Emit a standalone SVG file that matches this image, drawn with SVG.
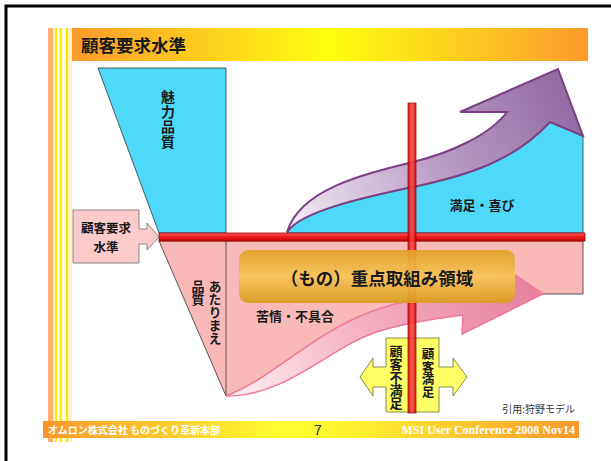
<svg xmlns="http://www.w3.org/2000/svg" width="611" height="461" viewBox="0 0 611 461">
<defs>
<style>
.jp{font-family:"Noto Sans CJK JP","Noto Sans",sans-serif;font-weight:bold;fill:#1a1a1a}
.vt{writing-mode:vertical-rl}
.edge{stroke:#333;stroke-width:0.8}
</style>
<linearGradient id="gTitle" x1="0" y1="0" x2="1" y2="0">
<stop offset="0" stop-color="#fb9a2c"/><stop offset="0.5" stop-color="#ffff10"/><stop offset="1" stop-color="#fb9a2c"/>
</linearGradient>
<linearGradient id="gFoot" x1="0" y1="0" x2="1" y2="0">
<stop offset="0" stop-color="#f7962a"/><stop offset="0.45" stop-color="#ffff30"/><stop offset="0.6" stop-color="#ffee30"/><stop offset="1" stop-color="#f7982a"/>
</linearGradient>
<linearGradient id="gRedH" x1="0" y1="0" x2="0" y2="1">
<stop offset="0" stop-color="#ff5a5a"/><stop offset="0.5" stop-color="#ee1c1c"/><stop offset="1" stop-color="#c80000"/>
</linearGradient>
<linearGradient id="gRedV" x1="0" y1="0" x2="1" y2="0">
<stop offset="0" stop-color="#c80000"/><stop offset="0.5" stop-color="#ff4a4a"/><stop offset="1" stop-color="#c80000"/>
</linearGradient>
<linearGradient id="gPurple" gradientUnits="userSpaceOnUse" x1="287" y1="232" x2="570" y2="90">
<stop offset="0" stop-color="#f4eef6"/><stop offset="0.5" stop-color="#bba0c6"/><stop offset="1" stop-color="#916aa2"/>
</linearGradient>
<linearGradient id="gPink" gradientUnits="userSpaceOnUse" x1="226" y1="396" x2="540" y2="290">
<stop offset="0" stop-color="#fdf0f4"/><stop offset="0.5" stop-color="#f3aabd"/><stop offset="1" stop-color="#e6809e"/>
</linearGradient>
<linearGradient id="gBox" x1="0" y1="0" x2="0" y2="1">
<stop offset="0" stop-color="#e2a126"/><stop offset="0.5" stop-color="#f8c358"/><stop offset="1" stop-color="#dc9c20"/>
</linearGradient>
</defs>
<rect width="611" height="461" fill="#fff"/>
<!-- outer frame -->
<path d="M6,461 V6 H611" fill="none" stroke="#000" stroke-width="3"/>
<!-- left stripes -->
<g id="stripes">
<rect x="48" y="28" width="5" height="414" fill="#fbb070"/>
<rect x="53" y="28" width="2" height="414" fill="#fff6d0"/>
<rect x="55" y="28" width="2.5" height="414" fill="#ffea00"/>
<rect x="57.5" y="28" width="2" height="414" fill="#fff"/>
<rect x="59.5" y="28" width="2.5" height="414" fill="#ffea00"/>
<rect x="62" y="28" width="4" height="414" fill="#fffbe0"/>
<rect x="66" y="28" width="2" height="414" fill="#ffe400"/>
<rect x="68" y="28" width="4" height="414" fill="#fff3c0"/>
</g>
<!-- title bar -->
<g id="title">
<rect x="72" y="28" width="516" height="33" fill="url(#gTitle)"/>
<text x="81" y="52" class="jp" font-size="17.5" fill="#111">顧客要求水準</text>
</g>
<!-- footer -->
<g id="footer">
<rect x="43" y="421" width="536" height="17" fill="url(#gFoot)"/>
<text x="48" y="434" font-family="Noto Sans CJK JP, sans-serif" font-weight="bold" font-size="10" fill="#fff">オムロン株式会社  ものづくり革新本部</text>
<text x="318" y="435" text-anchor="middle" font-family="Liberation Sans, sans-serif" font-size="14" fill="#222">7</text>
<text x="575" y="434" text-anchor="end" font-family="Liberation Serif, serif" font-weight="bold" font-size="12" fill="#fff">MSI User Conference 2008 Nov14</text>
</g>
<!-- blue 魅力品質 -->
<g id="miryoku">
<path d="M98,68 L226,68 L226,233 L159,233 Z" fill="#4ed9fa" class="edge"/>
<text x="168" y="90" class="jp vt" font-size="14" letter-spacing="1">魅力品質</text>
</g>
<!-- blue right region -->
<g id="manzoku">
<path d="M287,233 C300,212 360,198 413,187 C470,175 515,160 550,122 L583,136 L583,233 Z" fill="#4ed9fa" class="edge"/>
<text x="482" y="210" text-anchor="middle" class="jp" font-size="13">満足・喜び</text>
</g>
<!-- pink region -->
<g id="atarimae">
<path d="M159,241 L583,241 L583,294 L520,294 L400,320 L226,396 Z" fill="#f9b9b9" class="edge"/>
<line x1="226" y1="241" x2="226" y2="396" class="edge"/>
<text x="215" y="280" class="jp vt" font-size="13">あたりまえ</text>
<text x="198" y="280" class="jp vt" font-size="13">品質</text>
<text x="295" y="321" text-anchor="middle" class="jp" font-size="13">苦情・不具合</text>
</g>
<!-- connectors: arrows and bars -->
<g id="connectors">
<path id="pinkArrow" d="M226,396 C290,396 330,345 383,330 C410,322 440,318 463,315 L462,334 L543,294 L505,268 L478,291 C440,295 400,300 370,312 C310,335 270,380 226,396 Z" fill="url(#gPink)" stroke="#f07898" stroke-width="1.5"/>
<path id="purpleArrow" d="M287,232 C300,212 360,198 413,187 C470,175 515,160 550,122 L583,136 L558,69 L460,112 L507,112 C490,135 450,153 413,162 C360,175 300,190 287,232 Z" fill="url(#gPurple)" stroke="#7b3f84" stroke-width="2"/>
<rect id="levelBar" x="159" y="233" width="426" height="8" fill="url(#gRedH)" stroke="#a00000" stroke-width="0.8"/>
<path id="yellowArrow" d="M360,377 L373,358 V367 H386 V338 H439 V367 H453 V358 L467,377 L453,396 V387 H439 V412 H386 V387 H373 V396 Z" fill="#ffff66" stroke="#8a8a50" stroke-width="1"/>
<rect id="vBar" x="408" y="103" width="8" height="310" fill="url(#gRedV)" stroke="#a00000" stroke-width="0.8" opacity="0.9"/>
</g>
<!-- left callout -->
<g id="callout">
<path d="M73,210 H139 V229 H147 V223 L159,237 L147,250 V244 H139 V263 H73 Z" fill="#fbcaca" stroke="#888" stroke-width="1"/>
<text x="106" y="233" text-anchor="middle" class="jp" font-size="12.5" fill="#333">顧客要求</text>
<text x="106" y="252" text-anchor="middle" class="jp" font-size="12.5" fill="#333">水準</text>
</g>
<!-- yellow labels -->
<g id="fuman">
<text x="396" y="345" class="jp vt" font-size="13">顧客不満足</text>
</g>
<g id="manzokuLabel">
<text x="428" y="348" class="jp vt" font-size="12.5">顧客満足</text>
</g>
<!-- focus box -->
<g id="focus">
<rect x="239" y="250" width="276" height="53" rx="9" fill="url(#gBox)" opacity="0.93"/>
<text x="377" y="285" text-anchor="middle" class="jp" font-size="17.5">（もの）重点取組み領域</text>
</g>
<text x="575" y="413" text-anchor="end" font-family="Noto Sans CJK JP, sans-serif" font-size="10" fill="#333">引用:狩野モデル</text>
</svg>
